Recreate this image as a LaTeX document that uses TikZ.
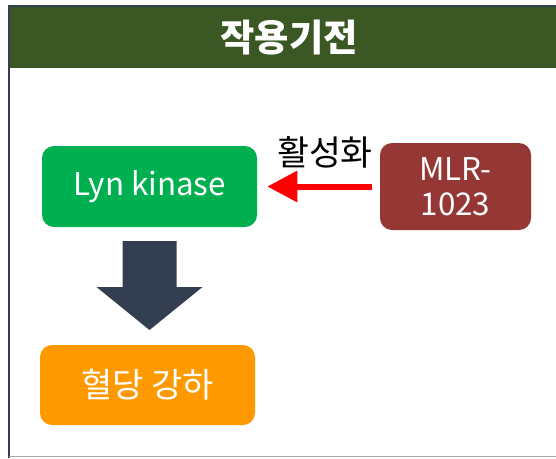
\documentclass[tikz,border=0pt]{standalone}
\usepackage{fontspec}
\setmainfont{Noto Sans CJK KR}
\usetikzlibrary{arrows.meta}
\definecolor{headgreen}{RGB}{59,87,35}
\definecolor{lyngreen}{RGB}{0,176,80}
\definecolor{drugred}{RGB}{149,55,53}
\definecolor{outorange}{RGB}{255,153,0}
\definecolor{slate}{RGB}{51,63,80}

\begin{document}
\begin{tikzpicture}[x=0.75pt,y=-0.75pt]
  \tikzstyle{every node} = [inner sep = 0, align = center]
  \tikzstyle{box} = [rounded corners = 9pt, text = white,
                     font = \fontsize{23.5}{26}\selectfont]
\useasboundingbox (0,0) rectangle (556,458);

% frame and header
\fill[white] (9,5) rectangle (556,457);
\fill[headgreen] (10,7) rectangle (556,68);
\draw[slate, line width = 1.5pt] (9,458) -- (9,5.5) -- (556,5.5);
\draw[gray!70, line width = 1pt] (9,456.5) -- (556,456.5);
\node[text = white, font = \fontsize{28}{30}\selectfont\bfseries] (title) at (289,38) {작용기전};

% boxes
\node[box, fill = lyngreen, minimum width = 161.25pt, minimum height = 60.75pt] (lyn) at (149.5,186.5) {Lyn kinase};
\node[box, fill = drugred, minimum width = 113.25pt, minimum height = 65.25pt] (mlr) at (455.5,186.5) {MLR-\\1023};
\node[box, fill = outorange, minimum width = 161.25pt, minimum height = 60pt, font = \fontsize{25.5}{26}\selectfont] (out) at (147.5,385) {혈당 강하};

% activation
\draw[red, line width = 4.5pt, -{Triangle[length = 22.5pt, width = 22.5pt]},
      shorten < = 6pt, shorten > = 7.5pt] (mlr.west) -- (lyn.east);
\node[font = \fontsize{26}{26}\selectfont] (act) at (325,152) {활성화};

% block arrow
\coordinate (top) at (lyn.south |- 0,241);
\fill[slate] (top) ++(-27,0) -- ++(54,0) -- ++(0,46) -- ++(26,0)
  -- ++(-53,43) -- ++(-53,-43) -- ++(26,0) -- cycle;

\end{tikzpicture}
\end{document}
